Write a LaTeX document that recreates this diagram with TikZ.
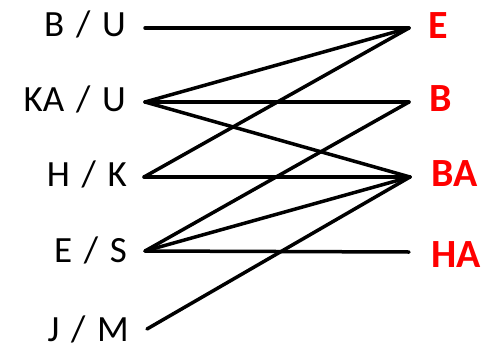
\documentclass[tikz,border=0pt]{standalone}
\usepackage{fontspec}
\setmainfont{Carlito}[WordSpace=1.4]
\begin{document}
\begin{tikzpicture}[x=1pt,y=-1pt,
  lab/.style={anchor=base east,inner sep=0pt,font=\fontsize{37}{37}\selectfont},
  res/.style={anchor=base west,inner sep=0pt,text=red,font=\fontsize{40}{40}\selectfont\bfseries},
  link/.style={line width=3.5pt,line cap=round,line join=round}]
\useasboundingbox (0,0) rectangle (490,351);
% left endpoints
\coordinate (l1) at (145,28);
\coordinate (l2) at (145,102);
\coordinate (l3) at (144,177);
\coordinate (l4) at (145,251);
\coordinate (l5) at (147,329);
% right endpoints
\coordinate (r1) at (409,28);
\coordinate (r2) at (409,102);
\coordinate (r3) at (410,177);
\coordinate (r4) at (409,252);
% left labels
\node[lab] (t1) at (126,36) {B / U};
\node[lab] (t2) at (126,111) {KA / U};
\node[lab] (t3) at (127,186) {H / K};
\node[lab] (t4) at (127,262) {E / S};
\node[lab] (t5) at (129,341) {J / M};
% right labels
\node[res] (s1) at (428,38) {E};
\node[res] (s2) at (429,111) {B};
\node[res] (s3) at (431,186) {BA};
\node[res] (s4) at (431,267) {HA};
% connectors
\draw[link] (l1) -- (r1);
\draw[link] (l2) -- (r1);
\draw[link] (l2) -- (r2);
\draw[link] (l2) -- (r3);
\draw[link] (l3) -- (r1);
\draw[link] (l3) -- (r3);
\draw[link] (l4) -- (r2);
\draw[link] (l4) -- (r3);
\draw[link] (l4) -- (r4);
\draw[link] (l5) -- (r3);
\end{tikzpicture}
\end{document}
